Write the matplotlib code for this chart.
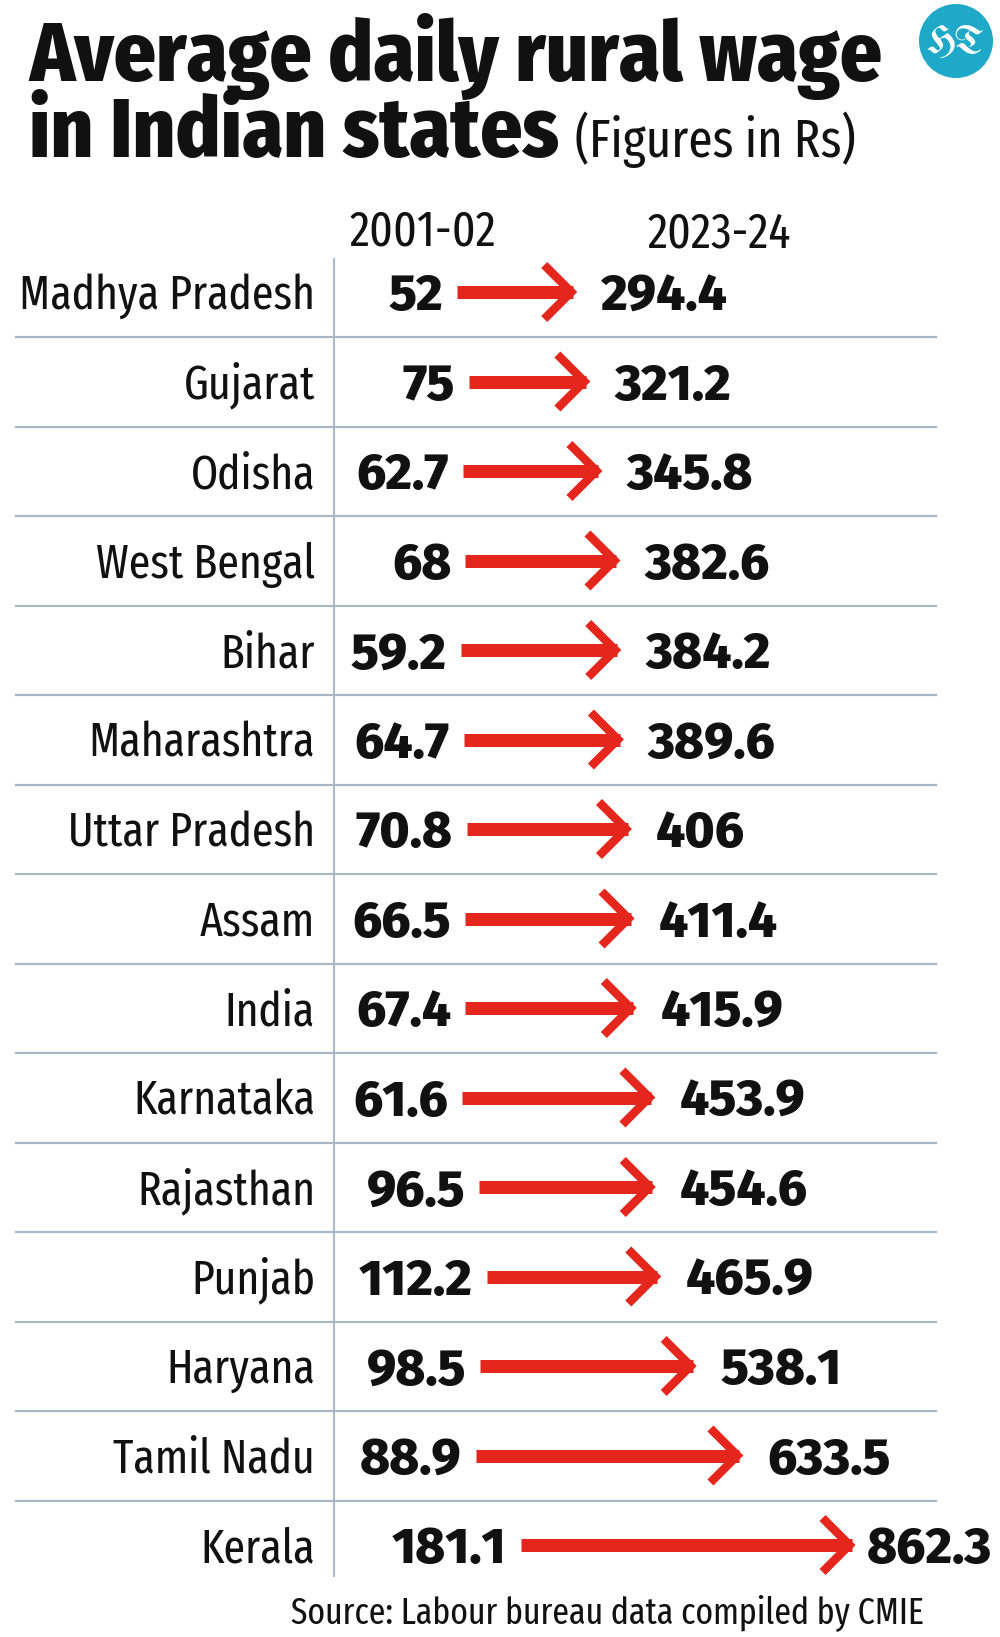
import matplotlib
matplotlib.use("Agg")
import matplotlib.pyplot as plt
from matplotlib import font_manager
from matplotlib.patches import Circle

# ========== DATA ==========

STATES = ["Madhya Pradesh", "Gujarat", "Odisha", "West Bengal", "Bihar",
          "Maharashtra", "Uttar Pradesh", "Assam", "India", "Karnataka",
          "Rajasthan", "Punjab", "Haryana", "Tamil Nadu", "Kerala"]
WAGE_2001 = [52, 75, 62.7, 68, 59.2, 64.7, 70.8, 66.5, 67.4, 61.6,
             96.5, 112.2, 98.5, 88.9, 181.1]
WAGE_2023 = [294.4, 321.2, 345.8, 382.6, 384.2, 389.6, 406, 411.4, 415.9,
             453.9, 454.6, 465.9, 538.1, 633.5, 862.3]
YEARS = ["2001-02", "2023-24"]
TITLE = ["Average daily rural wage", "in Indian states"]
SUBTITLE = "(Figures in Rs)"
SOURCE = "Source: Labour bureau data compiled by CMIE"

# ========== CONFIG ==========

W, H = 1000, 1637
DPI = 100
RED = "#E4261C"
GRID = "#A9B7C5"
TEAL = "#1DA9C7"
INK = "#111111"

ROW0, ROW_STEP = 292, 89.5     # pixel centre of first row, row spacing
PX0, PX_PER_RS = 432, 0.49     # where 0 Rs sits, pixels per rupee

FONT_NAMES = {f.name for f in font_manager.fontManager.ttflist}


def pick_font(cands, fallback):
    for c in cands:
        if c in FONT_NAMES:
            return c
    return fallback


COND = pick_font(["Fira Sans Extra Condensed", "Sofia Sans Extra Condensed",
                  "PT Sans Narrow", "Roboto Condensed"], "Liberation Sans")
TITLE_FONT = pick_font(["Fira Sans Condensed", "Fira Sans", "Lato"], "DejaVu Sans")
VALUE_FONT = pick_font(["Fira Sans", "Lato"], "DejaVu Sans")
LOGO = pick_font(["UnifrakturMaguntia", "UnifrakturCook"], "DejaVu Serif")

fig = plt.figure(figsize=(W / DPI, H / DPI), dpi=DPI)
renderer = fig.canvas.get_renderer()


def text_width(text, size, **kw):
    t = fig.text(0, 0, text, fontsize=size, **kw)
    w = t.get_window_extent(renderer=renderer).width
    t.remove()
    return w


def fit_size(text, width_px, **kw):
    return 100 * width_px / text_width(text, 100, **kw)


# layout axes in pixels (top-down)
lay = fig.add_axes([0, 0, 1, 1])
lay.set_xlim(0, W)
lay.set_ylim(H, 0)
lay.axis("off")

# arrow axes: x in rupees, y in row index
ax = fig.add_axes([0, 0, 1, 1], facecolor="none")
ax.set_xlim(-PX0 / PX_PER_RS, (W - PX0) / PX_PER_RS)
ax.set_ylim((H - ROW0) / ROW_STEP, -ROW0 / ROW_STEP)
ax.axis("off")
rs_per_px = 1 / PX_PER_RS
row_per_px = 1 / ROW_STEP

title_kw = dict(family=TITLE_FONT, weight="heavy")
value_kw = dict(family=VALUE_FONT, weight="heavy")
cond_kw = dict(family=COND, weight="normal")

# ---- title ----
fs_title = fit_size(TITLE[0], 853, **title_kw)
lay.text(29, 81, TITLE[0], fontsize=fs_title, color=INK, ha="left", va="baseline", **title_kw)
t2 = lay.text(29, 157, TITLE[1], fontsize=fs_title, color=INK, ha="left", va="baseline", **title_kw)
x_end = t2.get_window_extent(renderer=renderer).x1
fs_sub = fit_size(SUBTITLE, 281, **cond_kw)
lay.text(x_end + 16, 157, SUBTITLE, fontsize=fs_sub, color=INK,
         ha="left", va="baseline", **cond_kw)

# ---- HT logo ----
lay.add_patch(Circle((956, 41), 37, color=TEAL, lw=0))
lay.text(956, 43, "HT", fontsize=fit_size("HT", 58, family=LOGO),
         color="white", family=LOGO, ha="center", va="center")

# ---- column headers ----
fs_year = fit_size(YEARS[0], 147, **cond_kw)
lay.text(423, 246, YEARS[0], fontsize=fs_year, color=INK, ha="center", va="baseline", **cond_kw)
lay.text(719, 248, YEARS[1], fontsize=fs_year, color=INK, ha="center", va="baseline", **cond_kw)

# ---- grid lines ----
lay.plot([334, 334], [259, 1576], color=GRID, lw=1.4)
for i in range(len(STATES) - 1):
    y = ROW0 + ROW_STEP * i + 45
    lay.plot([16, 936], [y, y], color=GRID, lw=1.6)

# ---- state labels ----
fs_state = fit_size("Madhya Pradesh", 296, **cond_kw)
for i, name in enumerate(STATES):
    y = ROW0 + ROW_STEP * i
    lay.text(315, y + fs_state * 0.5, name, fontsize=fs_state,
             color=INK, ha="right", va="baseline", **cond_kw)

# ---- arrows and values ----
fs_val = fit_size("294.4", 127, **value_kw)
for i, (v0, v1) in enumerate(zip(WAGE_2001, WAGE_2023)):
    ax.plot([v0, v1 - 3 * rs_per_px], [i, i], color=RED, lw=13 * 0.72,
            solid_capstyle="butt")
    vx = v1 - 5 * rs_per_px
    ax.plot([vx - 27 * rs_per_px, vx, vx - 27 * rs_per_px],
            [i - 27 * row_per_px, i, i + 27 * row_per_px],
            color=RED, lw=8.5 * 0.72, solid_joinstyle="miter", solid_capstyle="butt")

    ax.annotate(f"{v0:g}", xy=(v0, i), xytext=(-14, -fs_val * 0.5),
                textcoords="offset pixels", fontsize=fs_val, color=INK,
                ha="right", va="baseline", **value_kw)
    lbl = f"{v1:g}"
    tip_px = PX0 + v1 * PX_PER_RS
    w_lbl = text_width(lbl, fs_val, **value_kw)
    gap = min(25, W - 8 - w_lbl - tip_px)
    ax.annotate(lbl, xy=(v1, i), xytext=(gap, -fs_val * 0.5),
                textcoords="offset pixels", fontsize=fs_val, color=INK,
                ha="left", va="baseline", **value_kw)

# ---- source ----
fs_src = fit_size(SOURCE, 634, **cond_kw)
lay.text(607, 1623, SOURCE, fontsize=fs_src, color=INK,
         ha="center", va="baseline", **cond_kw)

fig.savefig("out.png", dpi=DPI)
